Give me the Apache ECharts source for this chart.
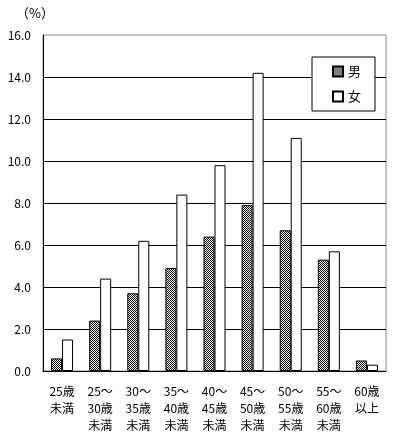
<!DOCTYPE html>
<html><head><meta charset="utf-8">
<script src="https://cdn.jsdelivr.net/npm/echarts@6/dist/echarts.min.js"></script>
<style>html,body{margin:0;padding:0;background:#fff}#c{width:395px;height:439px}</style>
</head><body><div id="c"></div>
<script>
const categories = ['25歳\n未満','25～\n30歳\n未満','30～\n35歳\n未満','35～\n40歳\n未満','40～\n45歳\n未満','45～\n50歳\n未満','50～\n55歳\n未満','55～\n60歳\n未満','60歳\n以上'];
const maleValues = [0.6, 2.4, 3.7, 4.9, 6.4, 7.9, 6.7, 5.3, 0.5];
const femaleValues = [1.5, 4.4, 6.2, 8.4, 9.8, 14.2, 11.1, 5.7, 0.3];
const seriesNames = ['男','女'];
const unitLabel = '（%）';

const pc = document.createElement('canvas');
pc.width = 2; pc.height = 2;
const g = pc.getContext('2d');
g.fillStyle = '#fff'; g.fillRect(0,0,2,2);
g.fillStyle = '#000'; g.fillRect(0,0,1,1); g.fillRect(1,1,1,1);

const font = '"Noto Sans CJK JP", sans-serif';
const chart = echarts.init(document.getElementById('c'), null, {renderer:'canvas'});
chart.setOption({
  animation:false,
  backgroundColor:'#fff',
  textStyle:{fontFamily:font, color:'#000'},
  graphic:[{type:'text', left:16, top:7, style:{text:unitLabel, font:'13px '+font, fill:'#000'}}],
  grid:{left:43, right:9, top:35, bottom:68, show:true, borderColor:'#888', borderWidth:1},
  legend:{
    orient:'vertical', left:312, top:57, padding:[8,14,8,20], itemGap:12,
    itemWidth:10, itemHeight:10, icon:'rect', backgroundColor:'#fff', borderColor:'#000', borderWidth:1,
    textStyle:{fontSize:13, color:'#000', fontFamily:font}, data:seriesNames
  },
  xAxis:{
    type:'category', data:categories,
    axisLine:{lineStyle:{color:'#000', width:1}},
    axisTick:{inside:true, length:4, lineStyle:{color:'#000'}},
    axisLabel:{color:'#000', fontSize:12, lineHeight:17, margin:12, interval:0, fontFamily:font}
  },
  yAxis:{
    type:'value', min:0, max:16, interval:2,
    axisLine:{show:true, lineStyle:{color:'#000', width:1}},
    axisTick:{show:false},
    axisLabel:{color:'#000', fontSize:12, margin:12, fontFamily:font, formatter:v=>v.toFixed(1)},
    splitLine:{show:true, showMaxLine:false, lineStyle:{color:'#000', width:1}}
  },
  series:[
    {name:seriesNames[0], type:'bar', data:maleValues, barWidth:11, barGap:'0%',
     itemStyle:{color:{image:pc, repeat:'repeat'}, borderColor:'#000', borderWidth:1}},
    {name:seriesNames[1], type:'bar', data:femaleValues, barWidth:11,
     itemStyle:{color:'#fff', borderColor:'#000', borderWidth:1}}
  ]
});
</script></body></html>
